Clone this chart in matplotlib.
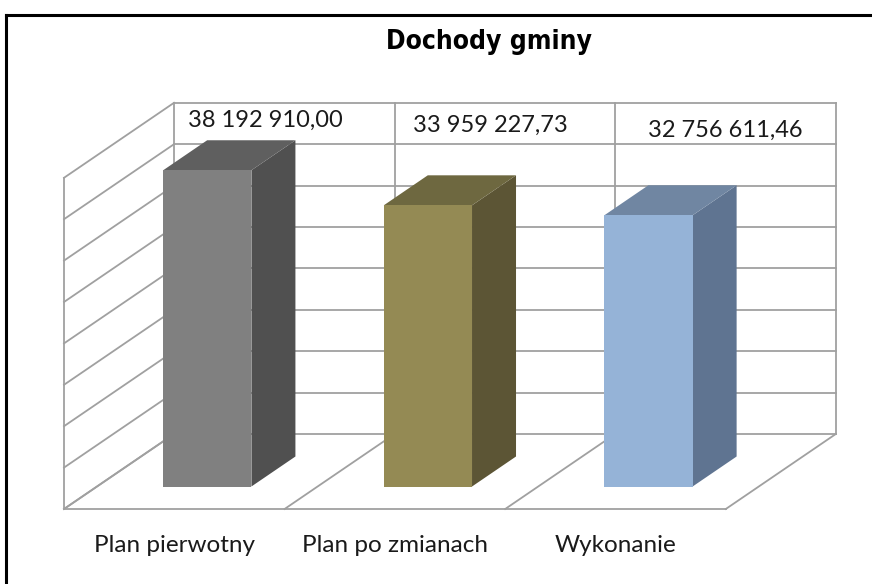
import matplotlib
matplotlib.use('Agg')
import matplotlib.pyplot as plt
from matplotlib.patches import Polygon
import numpy as np

# dane z wykresu
kategorie = ["Plan pierwotny", "Plan po zmianach", "Wykonanie"]
wartosci = [38192910.00, 33959227.73, 32756611.46]
kolory_przod = ["#808080", "#948a54", "#95b3d7"]
kolory_gora = ["#5f5f5f", "#6e6840", "#7086a2"]
kolory_bok = ["#505050", "#5c5535", "#5f7491"]
y_max = 40000000
y_krok = 5000000

# uklad (piksele)
W, H = 872, 584
px_kat = 220.6          # px na kategorie
px_jedn = 8.28e-6       # px na jednostke wartosci
x0_px, y0_px = 64, 509  # przedni lewy rog podlogi
glab_px = (110, 75)     # przesuniecie glebi
etyk_dx = [-19, -15, 0]
etyk_y = [120, 125, 130]

fig = plt.figure(figsize=(W / 100, H / 100), dpi=100)
ax = fig.add_axes([0, 0, 1, 1])
ax.set_xlim(-x0_px / px_kat, (W - x0_px) / px_kat)
ax.set_ylim(-(H - y0_px) / px_jedn, y0_px / px_jedn)
ax.axis('off')

DX = glab_px[0] / px_kat
DY = glab_px[1] / px_jedn


def rzut(x, v, g):
    return (x + g * DX, v + g * DY)


def linia(p1, p2):
    ax.plot([p1[0], p2[0]], [p1[1], p2[1]], color="#a0a0a0", lw=1.3,
            solid_capstyle='projecting', zorder=1)


n = len(kategorie)
for v in np.arange(0, y_max + 1, y_krok):
    linia(rzut(0, v, 1), rzut(n, v, 1))
    linia(rzut(0, v, 0), rzut(0, v, 1))
for i in range(n + 1):
    linia(rzut(i, 0, 1), rzut(i, y_max, 1))
    linia(rzut(i, 0, 0), rzut(i, 0, 1))
linia(rzut(0, 0, 0), rzut(0, y_max, 0))
linia(rzut(0, 0, 0), rzut(n, 0, 0))

# slupki 3D
g_p, g_t = 0.3, 0.7
for i, v in enumerate(wartosci):
    c = i + 0.5
    xl, xr = c - 0.2, c + 0.2
    przod = [rzut(xl, 0, g_p), rzut(xr, 0, g_p), rzut(xr, v, g_p), rzut(xl, v, g_p)]
    bok = [rzut(xr, 0, g_p), rzut(xr, 0, g_t), rzut(xr, v, g_t), rzut(xr, v, g_p)]
    gora = [rzut(xl, v, g_p), rzut(xr, v, g_p), rzut(xr, v, g_t), rzut(xl, v, g_t)]
    ax.add_patch(Polygon(bok, closed=True, fc=kolory_bok[i], ec='none', zorder=3))
    ax.add_patch(Polygon(gora, closed=True, fc=kolory_gora[i], ec='none', zorder=3))
    ax.add_patch(Polygon(przod, closed=True, fc=kolory_przod[i], ec='none', zorder=4))

    tekst = f"{v:,.2f}".replace(",", " ").replace(".", ",")
    ax.text(c + DX + etyk_dx[i] / px_kat, (y0_px - etyk_y[i]) / px_jedn, tekst,
            ha='center', va='center', fontsize=17, family='Lato', color='#1a1a1a', zorder=5)

    ax.text(c, -(545 - y0_px) / px_jedn, kategorie[i], ha='center', va='center',
            fontsize=17.5, family='Lato', color='#1a1a1a')

fig.text(489 / W, 1 - 42 / H, "Dochody gminy", ha='center', va='center',
         fontsize=19, fontweight='bold', fontstretch='condensed',
         family=['Liberation Sans Narrow', 'DejaVu Sans'])

# ramka
fig.add_artist(plt.Line2D([6 / W, 6 / W], [0, 1 - 15 / H], color='black', lw=2.2,
                          transform=fig.transFigure))
fig.add_artist(plt.Line2D([6 / W, 1], [1 - 15 / H, 1 - 15 / H], color='black', lw=2.2,
                          transform=fig.transFigure))

plt.savefig("out.png", dpi=100)
